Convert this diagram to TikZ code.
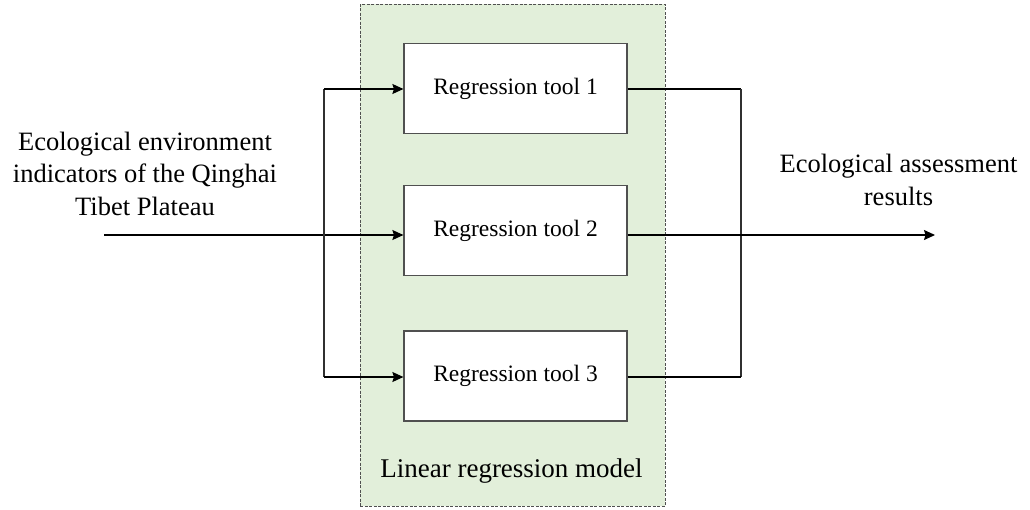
\documentclass[tikz,border=0pt]{standalone}
\usepackage{fontspec}
\setmainfont{Liberation Serif}
\usetikzlibrary{arrows.meta}
\definecolor{modelgreen}{HTML}{E2EFDA}
\definecolor{edgegray}{HTML}{505050}
\begin{document}
\begin{tikzpicture}[x=1pt,y=-1pt,
  toolbox/.style={draw=edgegray,line width=1.2pt,fill=white,minimum width=223pt,minimum height=90pt,inner sep=0pt,font=\fontsize{23.5}{28}\selectfont},
  bigtext/.style={align=center,inner sep=0pt,font=\fontsize{26.5}{32.5}\selectfont},
  conn/.style={line width=1.2pt,black},
  arr/.style={conn,-{Stealth[length=11pt,width=10pt,inset=1.5pt]}}]
\useasboundingbox (0,0) rectangle (1030,509);
\node[draw=edgegray,dash pattern=on 3pt off 1.5pt,line width=1pt,fill=modelgreen,minimum width=305pt,minimum height=502pt,inner sep=0pt] (model) at (512.5,255) {};
\node[toolbox] (t1) at (515.5,88.5) {Regression tool 1};
\node[toolbox] (t2) at (515.5,230.5) {Regression tool 2};
\node[toolbox] (t3) at (515.5,376) {Regression tool 3};
\node[inner sep=0pt,font=\fontsize{27}{32}\selectfont,anchor=base] (lab) at (511.5,477) {Linear regression model};
\node[bigtext,anchor=base] (inp) at (145,215) {Ecological environment\\indicators of the Qinghai\\Tibet Plateau};
\node[bigtext,anchor=base] (outp) at (898.5,205) {Ecological assessment\\results};
\coordinate (src) at (104,235);
\coordinate (dst) at (935,235);
\coordinate (lx1) at (324,89);
\coordinate (lx3) at (324,377);
\coordinate (rx1) at (741,89);
\coordinate (rx3) at (741,377);
% input
\draw[arr] (src) -- ([yshift=-4.5pt]t2.west);
\draw[conn,edgegray!60!black] (lx1) -- (lx3);
\draw[arr] (lx1) -- ([yshift=-0.5pt]t1.west);
\draw[arr] (lx3) -- ([yshift=-1pt]t3.west);
% output
\draw[conn] ([yshift=-0.5pt]t1.east) -- (rx1);
\draw[conn,edgegray!60!black] (rx1) -- (rx3);
\draw[conn] ([yshift=-1pt]t3.east) -- (rx3);
\draw[arr] ([yshift=-4.5pt]t2.east) -- (dst);
\end{tikzpicture}
\end{document}
